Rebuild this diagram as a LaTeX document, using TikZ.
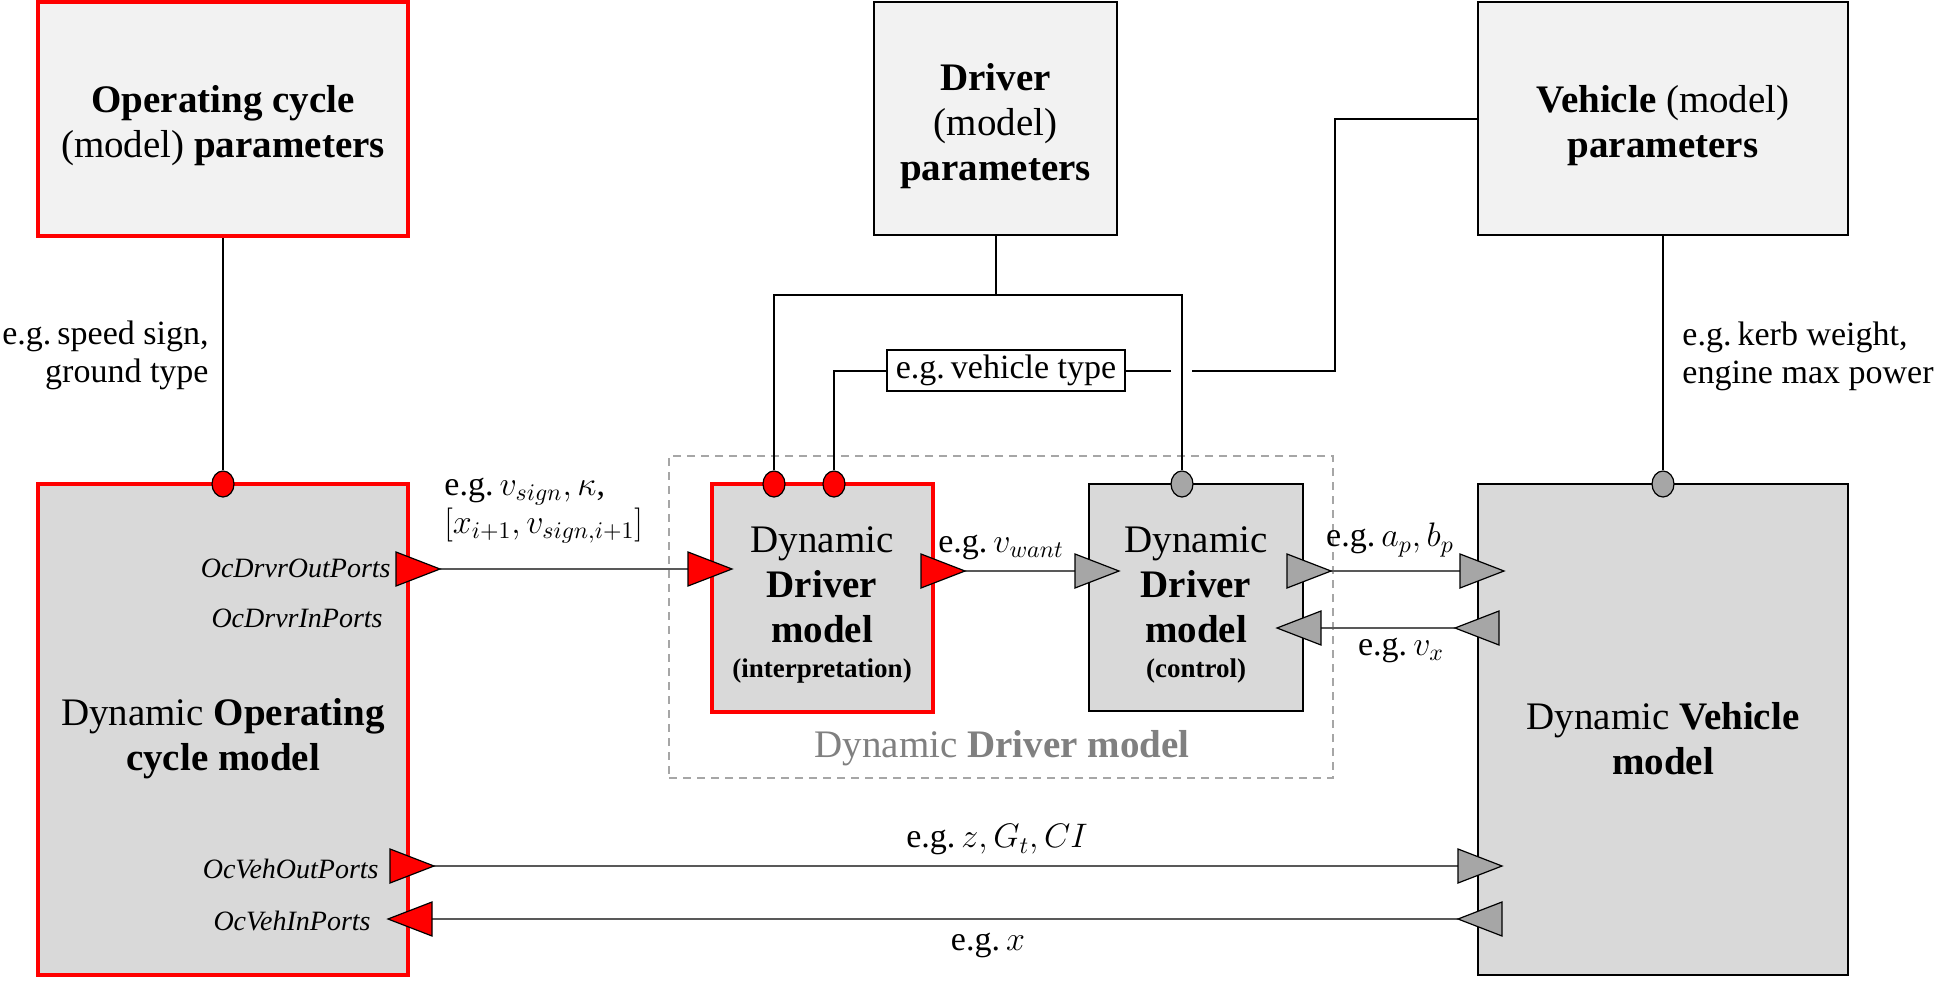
\RequirePackage{fix-cm}
\documentclass[tikz,border=0pt]{standalone}
\usepackage{fontspec}
\setmainfont{Liberation Serif}
\usetikzlibrary{shapes.geometric}
\definecolor{redc}{HTML}{FF0000}
\definecolor{boxgray}{HTML}{D9D9D9}
\definecolor{parfill}{HTML}{F2F2F2}
\definecolor{portgray}{HTML}{A6A6A6}
\definecolor{linegray}{HTML}{595959}
\definecolor{dashgray}{HTML}{A6A6A6}
\definecolor{txtgray}{HTML}{808080}
\newcommand\egx{e.g.\hspace{0.18em}}
\tikzset{
  title/.style={font=\fontsize{19.5}{22.5}\selectfont, align=center},
  lbl/.style={font=\fontsize{17}{19}\selectfont, inner sep=0pt},
  portlbl/.style={font=\fontsize{14}{16}\selectfont\itshape, inner sep=0pt, anchor=east},
  parbox/.style={draw=black, line width=1pt, fill=parfill, inner sep=0pt, rectangle},
  modbox/.style={draw=black, line width=1pt, fill=boxgray, inner sep=0pt, rectangle},
  redbox/.style={draw=redc, line width=2pt},
  conn/.style={draw=black, line width=1pt},
  sig/.style={draw=linegray, line width=0.8pt},
  portdot/.style={ellipse, draw=black, line width=0.6pt, minimum width=11pt, minimum height=13pt, inner sep=0pt},
  redport/.style={fill=redc, draw=black, line width=0.6pt},
  grayport/.style={fill=portgray, draw=black, line width=0.6pt},
  rtri/.pic={\path[pic actions] (0,-17) -- (44,0) -- (0,17) -- cycle;},
  ltri/.pic={\path[pic actions] (0,0) -- (44,-17) -- (44,17) -- cycle;},
}
\begin{document}
\begin{tikzpicture}[x=0.5pt,y=-0.5pt]
\useasboundingbox (0,0) rectangle (1944,985);

% parameter boxes
\node[parbox, redbox, minimum width=185pt, minimum height=117pt] (ocpar) at (223,119) {};
\node[title] (ocpartxt) at (223,126) {\textbf{Operating cycle}\\(model) \textbf{parameters}};
\node[parbox, minimum width=121.5pt, minimum height=116.5pt] (drvpar) at (995.5,118.5) {};
\node[title] (drvpartxt) at (995.5,126) {\textbf{Driver}\\(model)\\\textbf{parameters}};
\node[parbox, minimum width=185pt, minimum height=116.5pt] (vehpar) at (1663,118.5) {};
\node[title] (vehpartxt) at (1663,126) {\textbf{Vehicle} (model)\\\textbf{parameters}};

% dashed group
\node[draw=dashgray, dashed, dash pattern=on 4pt off 3pt, line width=0.8pt, minimum width=332pt, minimum height=161pt, inner sep=0pt] (grp) at (1001,617) {};
\node[font=\fontsize{19.5}{22.5}\selectfont, text=txtgray] (grplbl) at (1002,748) {Dynamic \textbf{Driver model}};

% model boxes
\node[modbox, redbox, minimum width=185pt, minimum height=245.5pt] (ocmod) at (223,729.5) {};
\node[title] (ocmodtxt) at (223,739) {Dynamic \textbf{Operating}\\\textbf{cycle model}};
\node[modbox, redbox, minimum width=110.5pt, minimum height=114pt] (interp) at (822.5,598) {};
\node[modbox, minimum width=107pt, minimum height=113.5pt] (ctrl) at (1196,597.5) {};
\node[modbox, minimum width=185pt, minimum height=245.5pt] (vehmod) at (1663,729.5) {};
\node[title] (vehmodtxt) at (1663,739) {Dynamic \textbf{Vehicle}\\\textbf{model}};

\node[title] (interptxt) at (822,605)
  {Dynamic\\\textbf{Driver}\\\textbf{model}\\[-5pt]{\fontsize{13.5}{16}\selectfont\textbf{(interpretation)}}};
\node[title] (ctrltxt) at (1196,605)
  {Dynamic\\\textbf{Driver}\\\textbf{model}\\[-5pt]{\fontsize{13.5}{16}\selectfont\textbf{(control)}}};

% vehicle type box
\node[draw=black, line width=0.8pt, fill=white, minimum width=119pt, minimum height=20.5pt, inner sep=0pt, lbl] (vtype) at (1006,370.5) {\egx vehicle type};

% parameter port dots
\node[portdot, fill=redc] (c1) at (223,484) {};
\node[portdot, fill=redc] (c2) at (774,484) {};
\node[portdot, fill=redc] (c3) at (834,484) {};
\node[portdot, fill=portgray] (c4) at (1182,484) {};
\node[portdot, fill=portgray] (c5) at (1663,484) {};

% parameter connectors
\draw[conn] (ocpar.south) -- (c1.north);
\draw[conn] (vehpar.south) -- (c5.north);
\coordinate (dj) at (995.5,295);
\draw[conn] (drvpar.south) -- (dj);
\draw[conn] (c2.north) |- (dj) -| (c4.north);
\coordinate (vk) at (1335,370.5);
\coordinate (gapR) at (1192,370.5);
\coordinate (gapL) at (1171,370.5);
\draw[conn] (vehpar.west) -| (vk) -- (gapR);
\draw[conn] (gapL) -- (vtype.east);
\draw[conn] (vtype.west) -| (c3.north);

% signal port coordinates
\coordinate (ocdoB) at (396,569);  \coordinate (ocdoT) at (440,569);
\coordinate (inB)   at (688,569);  \coordinate (inT)   at (732,569);
\coordinate (ioB)   at (921,571);  \coordinate (ioT)   at (965,571);
\coordinate (ciB)   at (1075,571); \coordinate (ciT)   at (1119,571);
\coordinate (coB)   at (1287,571); \coordinate (coT)   at (1331,571);
\coordinate (viB)   at (1460,571); \coordinate (viT)   at (1504,571);
\coordinate (voT)   at (1455,628); \coordinate (voB)   at (1499,628);
\coordinate (cvT)   at (1277,628); \coordinate (cvB)   at (1321,628);
\coordinate (ovoB)  at (390,866);  \coordinate (ovoT)  at (434,866);
\coordinate (vviB)  at (1458,866); \coordinate (vviT)  at (1502,866);
\coordinate (oviT)  at (388,919);  \coordinate (oviB)  at (432,919);
\coordinate (vvoT)  at (1458,919); \coordinate (vvoB)  at (1502,919);

% signal lines
\draw[sig] (ocdoT) -- (inB);
\draw[sig] (ioT) -- (ciB);
\draw[sig] (coT) -- (viB);
\draw[sig] (voT) -- (cvB);
\draw[sig] (ovoT) -- (vviB);
\draw[sig] (vvoT) -- (oviB);

% triangles
\pic[redport] at (ocdoB) {rtri};
\pic[redport] at (inB) {rtri};
\pic[redport] at (ioB) {rtri};
\pic[grayport] at (ciB) {rtri};
\pic[grayport] at (coB) {rtri};
\pic[grayport] at (viB) {rtri};
\pic[grayport] at (voT) {ltri};
\pic[grayport] at (cvT) {ltri};
\pic[redport] at (ovoB) {rtri};
\pic[grayport] at (vviB) {rtri};
\pic[redport] at (oviT) {ltri};
\pic[grayport] at (vvoT) {ltri};

% port labels
\node[portlbl] (l1) at (391,568) {OcDrvrOutPorts};
\node[portlbl] (l2) at (383,618) {OcDrvrInPorts};
\node[portlbl] (l3) at (379,869) {OcVehOutPorts};
\node[portlbl] (l4) at (371,921) {OcVehInPorts};

% signal labels
\node[lbl, anchor=east, align=right] (t1) at (209,355) {\egx speed sign,\\ground type};
\node[lbl, anchor=west, align=left] (t2) at (1682,356) {\egx kerb weight,\\engine max power};
\node[lbl, anchor=west, align=left] (t3) at (444,511) {\egx $v_{sign}, \kappa$,\\$[x_{i+1}, v_{sign,i+1}]$};
\node[lbl] (t4) at (1001,547) {\egx $v_{want}$};
\node[lbl] (t5) at (1390,540) {\egx $a_p, b_p$};
\node[lbl] (t6) at (1401,650) {\egx $v_x$};
\node[lbl] (t7) at (997,840) {\egx $z, G_t, CI$};
\node[lbl] (t8) at (988,945) {\egx $x$};
\end{tikzpicture}
\end{document}
